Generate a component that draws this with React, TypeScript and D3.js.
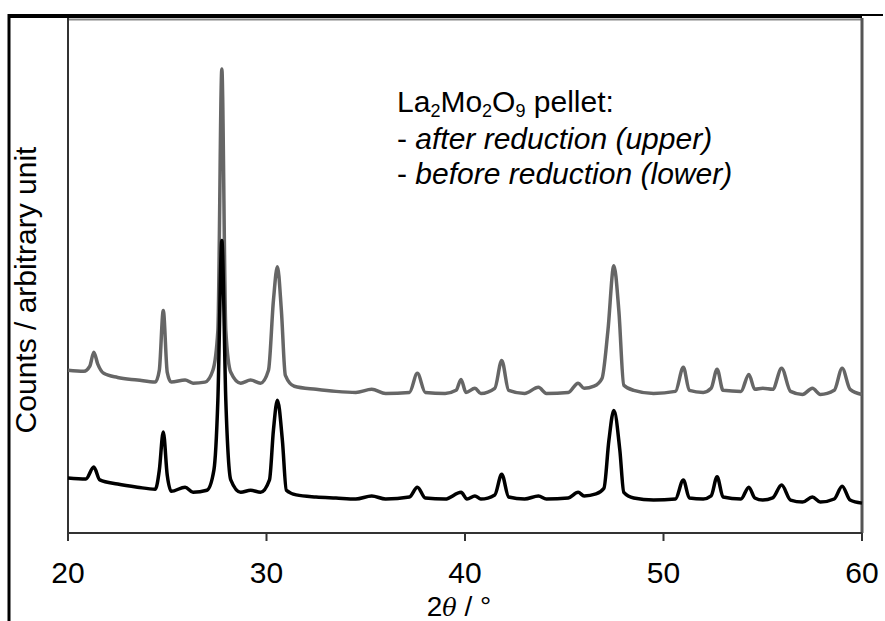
import React from 'react';
import * as d3 from 'd3';

// 2θ (degrees) and counts (arbitrary unit)
const upperTheta = [
  20.0, 20.8, 21.1, 21.3, 21.5, 21.8, 22.5, 23.5, 24.4, 24.6, 24.8, 25.0, 25.2, 25.9, 26.3, 26.9,
  27.3, 27.55, 27.75, 27.95, 28.2, 28.7, 29.2, 29.7, 30.1, 30.35, 30.55, 30.75, 30.95, 31.4, 32.5,
  33.5, 34.5, 35.3, 36.0, 37.2, 37.6, 38.0, 39.0, 39.55, 39.8, 40.05, 40.5, 40.8, 41.5, 41.85, 42.2,
  43.0, 43.7, 44.1, 45.2, 45.7, 46.0, 46.5, 46.9, 47.2, 47.5, 47.75, 48.0, 48.5, 49.5, 50.6, 51.0,
  51.3, 52.0, 52.4, 52.7, 53.0, 53.9, 54.3, 54.6, 55.0, 55.5, 55.95, 56.4, 57.0, 57.5, 57.9, 58.6,
  59.0, 59.4, 60.0,
];
const upperCounts = [
  316, 314, 324, 351, 328, 310, 302, 297, 293, 316, 432, 312, 293, 297, 291, 293,
  316, 393, 901, 393, 312, 291, 297, 291, 316, 452, 517, 432, 306, 285, 279,
  275, 273, 279, 271, 273, 310, 273, 271, 277, 298, 273, 281, 271, 281, 335, 277,
  271, 283, 271, 273, 291, 281, 285, 300, 393, 519, 432, 287, 277, 271, 275, 322,
  277, 273, 281, 318, 277, 275, 308, 279, 281, 279, 320, 275, 269, 281, 269, 277,
  320, 279, 269,
];

const lowerTheta = [
  20.0, 20.9, 21.3, 21.6, 22.5, 23.5, 24.4, 24.6, 24.8, 25.0, 25.2, 25.9, 26.3, 27.0, 27.35, 27.55,
  27.75, 27.95, 28.2, 28.7, 29.2, 29.7, 30.15, 30.35, 30.55, 30.8, 31.0, 31.5, 32.5, 33.5, 34.5,
  35.3, 36.0, 37.2, 37.6, 38.0, 39.0, 39.8, 40.1, 40.5, 40.8, 41.5, 41.85, 42.2, 43.0, 43.7, 44.1,
  45.2, 45.7, 46.0, 46.6, 47.0, 47.25, 47.5, 47.8, 48.0, 48.5, 49.5, 50.6, 51.0, 51.3, 52.0, 52.4,
  52.7, 53.0, 53.9, 54.3, 54.6, 55.0, 55.5, 55.95, 56.4, 57.0, 57.5, 57.9, 58.6, 59.0, 59.4, 60.0,
];
const lowerCounts = [
  107, 105, 128, 103, 95, 89, 85, 122, 196, 112, 81, 89, 79, 83, 122, 258,
  568, 258, 103, 79, 83, 79, 103, 200, 258, 180, 83, 74, 70, 68, 66,
  72, 66, 70, 89, 68, 66, 79, 66, 72, 66, 74, 114, 70, 66, 72, 66,
  68, 79, 72, 76, 87, 180, 238, 161, 79, 68, 64, 66, 103, 68, 66, 72,
  109, 70, 66, 89, 68, 64, 68, 93, 64, 60, 70, 60, 66, 91, 64, 58,
];

const xTicks = [20, 30, 40, 50, 60];

const W = 885;
const H = 621;
const margin = { top: 18, right: 23, bottom: 88, left: 68 };
const font = "'Liberation Sans', Arial, sans-serif";

export default function App() {
  const innerW = W - margin.left - margin.right;
  const innerH = H - margin.top - margin.bottom;

  const x = d3.scaleLinear().domain([20, 60]).range([0, innerW]);
  const y = d3.scaleLinear().domain([0, 1000]).range([innerH, 0]);

  const line = d3
    .line<number>()
    .x((d) => x(d))
    .curve(d3.curveMonotoneX);

  const upperPath = line.y((d, i) => y(upperCounts[i]))(upperTheta) || '';
  const lowerPath = line.y((d, i) => y(lowerCounts[i]))(lowerTheta) || '';

  return (
    <svg
      width={W}
      height={H}
      style={{ position: 'absolute', left: 0, top: 0, background: '#fff', fontFamily: font }}
    >
      {/* outer frame */}
      <line x1={9} x2={9} y1={14} y2={H} stroke="#000" strokeWidth={3} />
      <line x1={8} x2={862} y1={16} y2={16} stroke="#000" strokeWidth={4} />
      <line x1={862} x2={883} y1={15} y2={15} stroke="#000" strokeWidth={2} />

      <g transform={`translate(${margin.left},${margin.top})`}>
        <line x1={0} x2={innerW} y1={1.5} y2={1.5} stroke="#888" strokeWidth={2} />
        <line x1={0} x2={0} y1={0} y2={innerH} stroke="#333" strokeWidth={2} />
        <line x1={innerW} x2={innerW} y1={0} y2={innerH} stroke="#555" strokeWidth={3} />
        <line x1={0} x2={innerW} y1={innerH} y2={innerH} stroke="#333" strokeWidth={2} />

        {xTicks.map((t) => (
          <g key={t} transform={`translate(${x(t)},${innerH})`}>
            <line y1={0} y2={8} stroke="#333" strokeWidth={2} />
            <text y={50} textAnchor="middle" fontSize={30} fill="#000">
              {t}
            </text>
          </g>
        ))}

        <path d={upperPath} fill="none" stroke="#666" strokeWidth={3.5} strokeLinejoin="round" />
        <path d={lowerPath} fill="none" stroke="#000" strokeWidth={3.5} strokeLinejoin="round" />

        <text x={x(40) - 6} y={598} textAnchor="middle" fontSize={28} fill="#000">
          2<tspan fontStyle="italic" fontFamily="'DejaVu Serif', serif" fontSize={24}>θ</tspan> / °
        </text>
      </g>

      <text
        transform={`translate(36,290) rotate(-90)`}
        textAnchor="middle"
        fontSize={30}
        fill="#000"
      >
        Counts / arbitrary unit
      </text>

      <g fontSize={30} fill="#000">
        <text x={397} y={112}>
          La<tspan fontSize={18} dy={5}>2</tspan>
          <tspan dy={-5}>Mo</tspan>
          <tspan fontSize={18} dy={5}>2</tspan>
          <tspan dy={-5}>O</tspan>
          <tspan fontSize={18} dy={5}>9</tspan>
          <tspan dy={-5}> pellet:</tspan>
        </text>
        <text x={397} y={149}>
          - <tspan fontStyle="italic">after reduction (upper)</tspan>
        </text>
        <text x={397} y={184}>
          - <tspan fontStyle="italic">before reduction (lower)</tspan>
        </text>
      </g>
    </svg>
  );
}
